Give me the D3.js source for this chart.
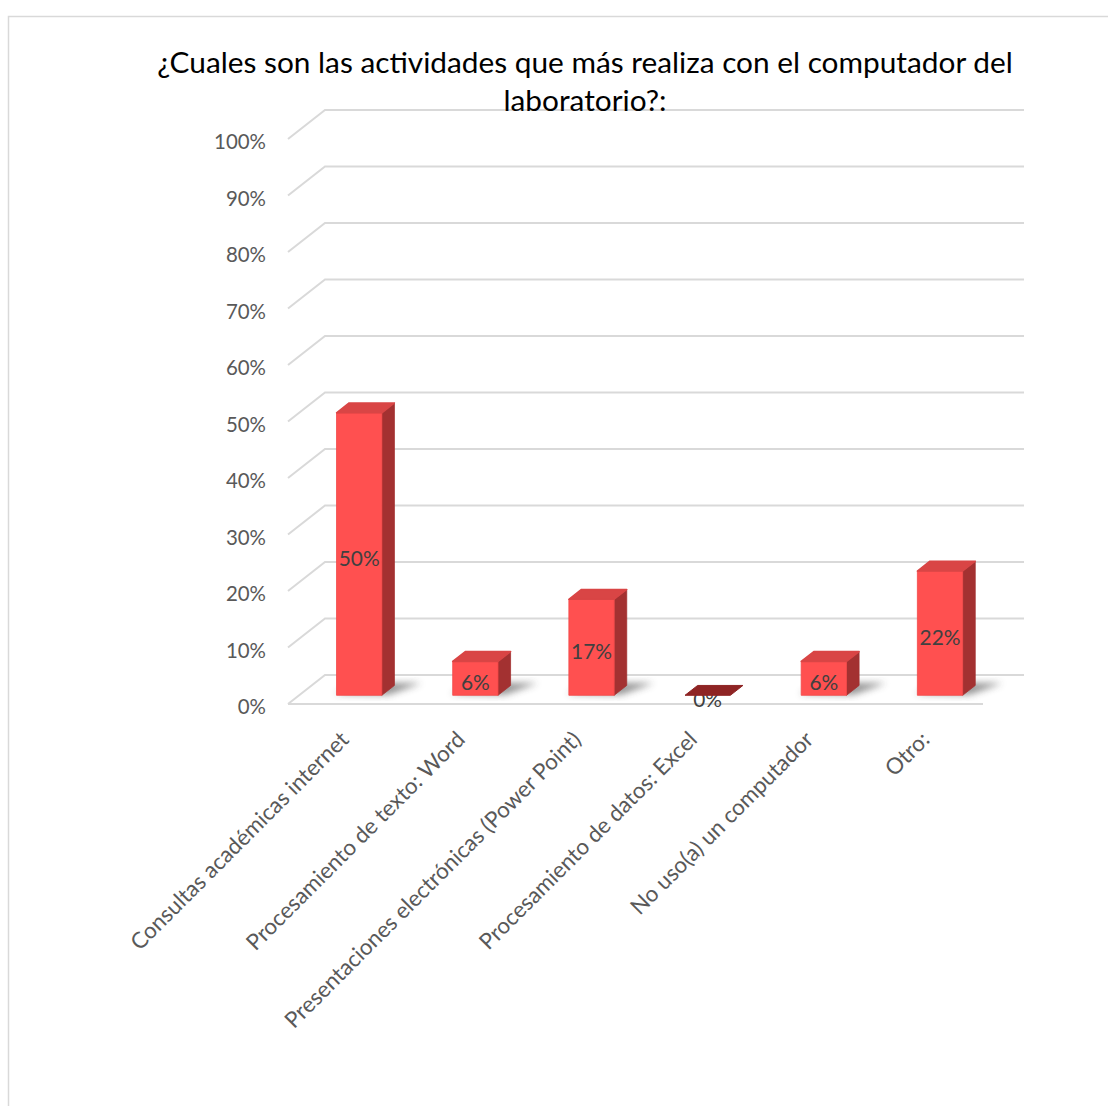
<!DOCTYPE html>
<html>
<head>
<meta charset="utf-8">
<script src="https://cdn.jsdelivr.net/npm/d3@7"></script>
<style>
  html, body { margin: 0; padding: 0; background: #fff; }
  svg { display: block; }
</style>
</head>
<body>
<svg id="chart" width="1108" height="1106"></svg>
<script>
// Survey results: share of students per activity on the lab computer
const categories = [
  "Consultas académicas internet",
  "Procesamiento de texto: Word",
  "Presentaciones electrónicas (Power Point)",
  "Procesamiento de datos: Excel",
  "No uso(a) un computador",
  "Otro:"
];
const values = [50, 6, 17, 0, 6, 22];
const yTicks = [0, 10, 20, 30, 40, 50, 60, 70, 80, 90, 100];
const titleLines = [
  "¿Cuales son las actividades que más realiza con el computador del",
  "laboratorio?:"
];

const FONT = "Lato, 'Open Sans', sans-serif";
const svg = d3.select("#chart");

// outer chart frame
svg.append("rect")
  .attr("x", 8.5).attr("y", 16.5)
  .attr("width", 1300).attr("height", 1300)
  .attr("fill", "#fff").attr("stroke", "#d9d9d9").attr("stroke-width", 1.5);

// oblique 3D projection: x along categories, v = value, z = depth (0 front, 1 back)
const floorY = 704;
const depth = { dx: 37, dy: -29 };
const xFloor = [288, 985];
const x = d3.scaleBand().domain(categories).range([290, 987])
  .paddingInner(0.61).paddingOuter(0.305);
const y = d3.scaleLinear().domain([0, 100]).range([floorY, floorY - 565]);
const P = (px, v, z) => [px + depth.dx * z, y(v) + depth.dy * z];

// font sizes fitted to the intended text widths
function fitSize(text, target) {
  const t = svg.append("text").attr("font-family", FONT).attr("font-size", 100).text(text);
  const w = t.node().getComputedTextLength();
  t.remove();
  return 100 * target / w;
}
const titleSize = fitSize(titleLines[0], 856);
const tickSize = fitSize("100%", 52);
const barLabelSize = fitSize("50%", 41);
const catSize = fitSize(categories[2], 408);

const line = d3.line();

// side-wall diagonals and back-wall gridlines
const grid = svg.append("g").attr("fill", "none").attr("stroke", "#d9d9d9").attr("stroke-width", 2);
yTicks.forEach(t => {
  grid.append("path").attr("d", line([P(xFloor[0], t, 0), P(xFloor[0], t, 1), P(xFloor[1] + 2, t, 1)]));
});
// front edge of the floor
grid.append("path").attr("d", line([P(xFloor[0], 0, 0), P(xFloor[1] - 2, 0, 0)]));

// value axis labels
svg.append("g").selectAll("text").data(yTicks).join("text")
  .attr("x", 266).attr("y", d => P(xFloor[0], d, 0)[1] + 2)
  .attr("text-anchor", "end").attr("dominant-baseline", "central")
  .attr("font-family", FONT).attr("font-size", tickSize).attr("fill", "#595959")
  .text(d => d + "%");

// title
svg.append("g").selectAll("text").data(titleLines).join("text")
  .attr("x", 585).attr("y", (d, i) => 73 + i * 38)
  .attr("text-anchor", "middle")
  .attr("font-family", FONT).attr("font-size", titleSize).attr("fill", "#000")
  .text(d => d);

// soft floor shadow under each column
const defs = svg.append("defs");
defs.append("filter").attr("id", "soft").attr("x", "-50%").attr("y", "-50%").attr("width", "200%").attr("height", "200%")
  .append("feGaussianBlur").attr("stdDeviation", 3.5);

const z0 = 0.3, z1 = 0.64;
const data = categories.map((c, i) => ({ c, v: values[i] }));

svg.append("g").selectAll("path").data(data.filter(d => d.v > 0)).join("path")
  .attr("d", d => {
    const a = x(d.c), b = a + x.bandwidth();
    return line([P(a - 4, 0, z0 + 0.05), P(b + 6, 0, z0 + 0.02), P(b + 24, 0, z1 + 0.08), P(a + 12, 0, z1 + 0.08)]) + "Z";
  })
  .attr("fill", "#3a3a3a").attr("opacity", 0.55).attr("filter", "url(#soft)");

// columns: side, front and top faces
const bars = svg.append("g").selectAll("g").data(data.filter(d => d.v > 0)).join("g");
bars.append("path")
  .attr("d", d => {
    const b = x(d.c) + x.bandwidth();
    return line([P(b, 0, z0), P(b, 0, z1), P(b, d.v, z1), P(b, d.v, z0)]) + "Z";
  })
  .attr("fill", "#a33131").attr("stroke", "#a33131").attr("stroke-width", 0.8).attr("stroke-linejoin", "round");
bars.append("path")
  .attr("d", d => {
    const a = x(d.c), b = a + x.bandwidth();
    return line([P(a, 0, z0), P(b, 0, z0), P(b, d.v, z0), P(a, d.v, z0)]) + "Z";
  })
  .attr("fill", "#ff5050").attr("stroke", "#f24848").attr("stroke-width", 0.8);
bars.append("path")
  .attr("d", d => {
    const a = x(d.c), b = a + x.bandwidth();
    return line([P(a, d.v, z0), P(b, d.v, z0), P(b, d.v, z1), P(a, d.v, z1)]) + "Z";
  })
  .attr("fill", "#d94545").attr("stroke", "#d94545").attr("stroke-width", 1.5).attr("stroke-linejoin", "round");

// value labels centred on the front faces
svg.append("g").selectAll("text").data(data).join("text")
  .attr("x", d => P(x(d.c) + x.bandwidth() / 2, 0, z0)[0])
  .attr("y", d => (P(0, 0, z0)[1] + P(0, d.v, z0)[1]) / 2 + 3)
  .attr("text-anchor", "middle").attr("dominant-baseline", "central")
  .attr("font-family", FONT).attr("font-size", barLabelSize).attr("fill", "#404040")
  .text(d => d.v + "%");

// zero-height column shows only its flat cap
svg.append("g").selectAll("path").data(data.filter(d => d.v === 0)).join("path")
  .attr("d", d => {
    const a = x(d.c), b = a + x.bandwidth();
    return line([P(a, 0, z0), P(b, 0, z0), P(b, 0, z1), P(a, 0, z1)]) + "Z";
  })
  .attr("fill", "#8e2424").attr("stroke", "#8e2424").attr("stroke-width", 1).attr("stroke-linejoin", "round");

// rotated category labels
svg.append("g").selectAll("text").data(categories).join("text")
  .attr("transform", d => `translate(${x(d) + x.bandwidth() / 2 + 2},741) rotate(-45)`)
  .attr("text-anchor", "end")
  .attr("font-family", FONT).attr("font-size", catSize).attr("fill", "#595959")
  .text(d => d);
</script>
</body>
</html>
